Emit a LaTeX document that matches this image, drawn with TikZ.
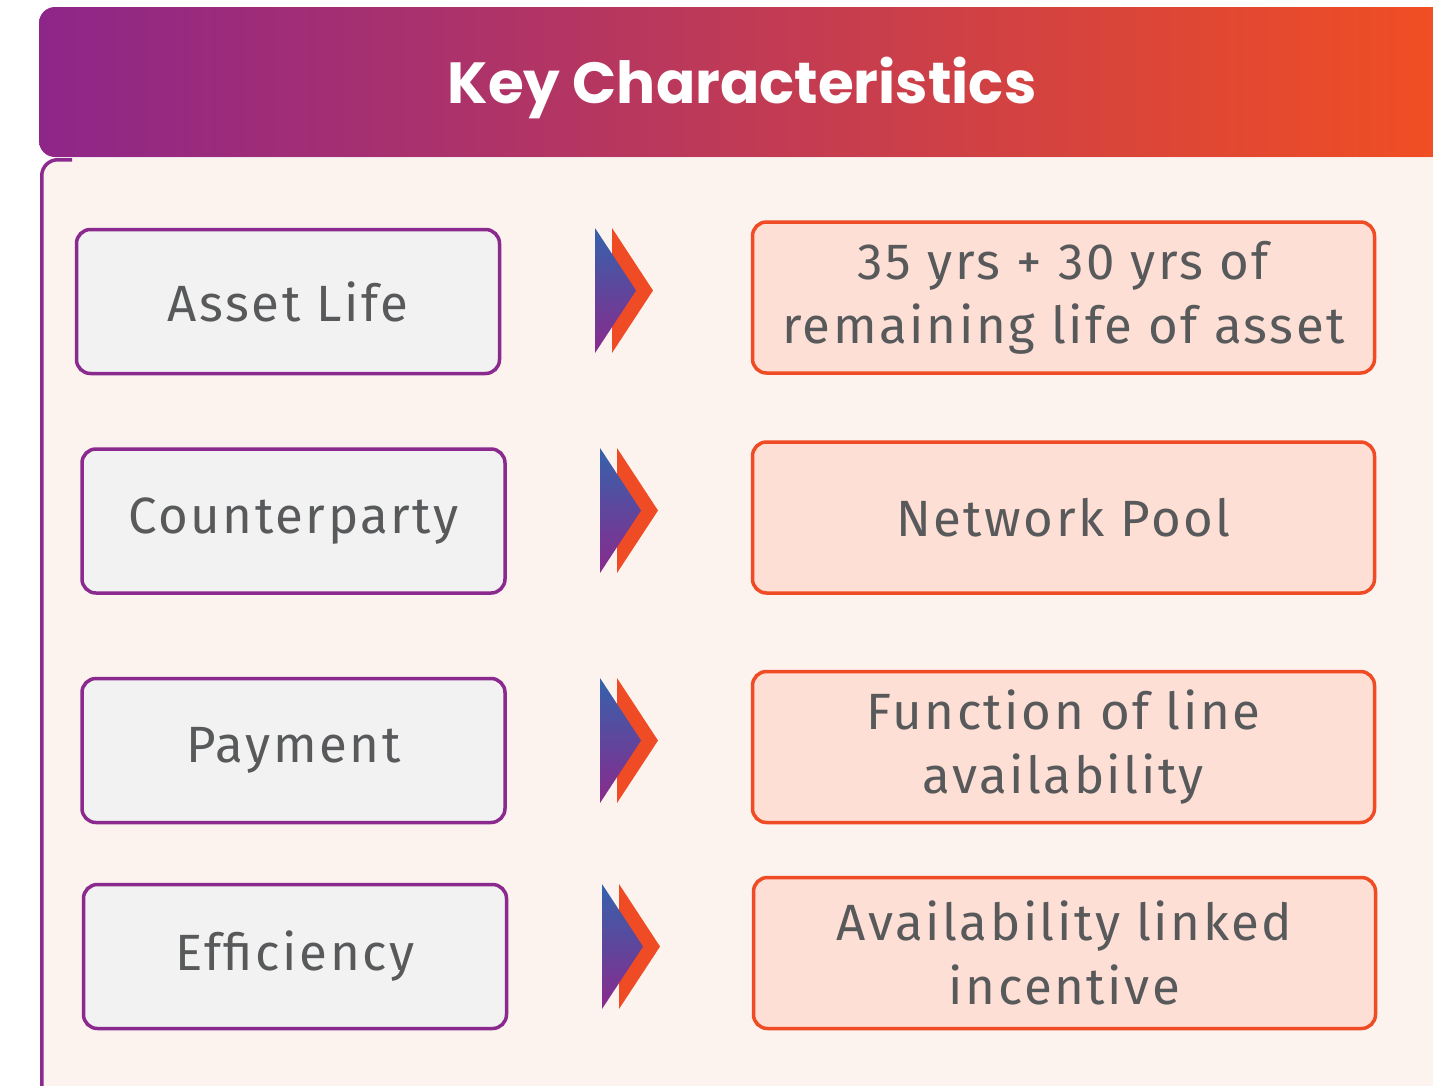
\documentclass[tikz,border=0pt]{standalone}
\usepackage{fontspec}
\setmainfont{Fira Sans}[LetterSpace=5]
\newfontfamily\headfont{Poppins}
\definecolor{kpurple}{HTML}{8B2A8E}
\definecolor{korange}{HTML}{EF4B24}
\definecolor{kcream}{HTML}{FCF2EE}
\definecolor{kgrey}{HTML}{F2F2F2}
\definecolor{kpeach}{HTML}{FDDFD5}
\definecolor{ktext}{HTML}{58595B}
\definecolor{kblue}{HTML}{3462AC}
\definecolor{kviolet}{HTML}{8A2A8C}
\definecolor{kheadL}{HTML}{8E2689}
\definecolor{kheadR}{HTML}{F04E23}
\tikzset{
  keybox/.style={draw=kpurple, fill=kgrey, line width=3.5pt, rounded corners=14pt,
    minimum width=423pt, minimum height=144pt, text=ktext, inner sep=0pt,
    font=\fontsize{51}{64}\selectfont},
  valbox/.style={draw=korange, fill=kpeach, line width=3.5pt, rounded corners=14pt,
    minimum width=622pt, minimum height=151pt, text=ktext, inner sep=0pt, align=center,
    font=\fontsize{51}{64}\selectfont},
}
\newcommand\chevronpair[2]{%
  \fill[korange] (#1+17,#2) -- (#1+58,#2+62.5) -- (#1+17,#2+125) -- cycle;
  \shade[top color=kblue, bottom color=kviolet] (#1,#2) -- (#1+41,#2+62.5) -- (#1,#2+125) -- cycle;
}
\begin{document}
\begin{tikzpicture}[x=1pt,y=-1pt]
\useasboundingbox (0,0) rectangle (1433,1085);
\begin{scope}
\clip (0,0) rectangle (1433,1085);
% body
\fill[kcream, rounded corners=16pt] (40,158) rectangle (1480,1120);
\draw[kpurple, line width=3.5pt] (72,159.75) -- (57.75,159.75) arc[start angle=270, end angle=180, radius=16] -- (41.75,1120);
\end{scope}
% header
\shade[left color=kheadL, right color=kheadR]
  (1433,7) -- (55,7) arc[start angle=270, end angle=180, radius=16] -- (39,141)
  arc[start angle=180, end angle=90, radius=16] -- (1433,157) -- cycle;
\node[anchor=base, text=white, font=\headfont\fontsize{58}{64}\selectfont\bfseries] (title) at (742,103) {Key Characteristics};

\node[keybox] (k1) at (288,301.5) {Asset Life};
\node[keybox] (k2) at (293.5,521) {Counterparty};
\node[keybox] (k3) at (293.5,750.5) {Payment};
\node[keybox] (k4) at (295,956.5) {Efficiency};

\node[valbox] (v1) at (1063.5,297.5) {35 yrs + 30 yrs of\\remaining life of asset};
\node[valbox] (v2) at (1063.5,517.5) {Network Pool};
\node[valbox] (v3) at (1063.5,747) {Function of line\\availability};
\node[valbox] (v4) at (1064.5,953) {Availability linked\\incentive};

\chevronpair{595}{228}
\chevronpair{600}{448}
\chevronpair{600}{678}
\chevronpair{602}{884}
\end{tikzpicture}
\end{document}
